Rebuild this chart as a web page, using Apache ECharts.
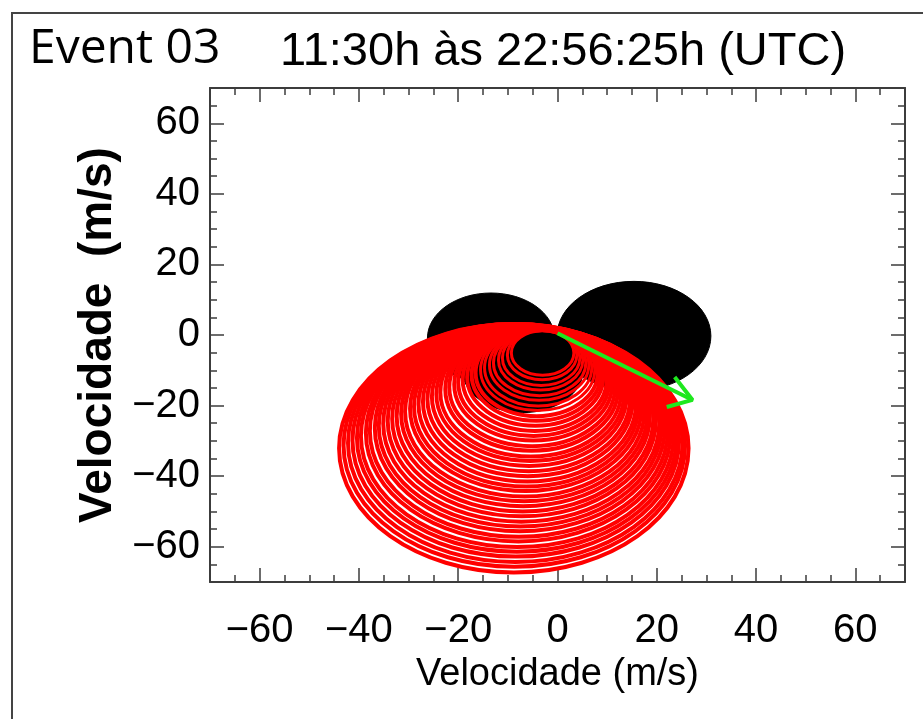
<!DOCTYPE html>
<html>
<head>
<meta charset="utf-8">
<script src="https://cdn.jsdelivr.net/npm/echarts@6/dist/echarts.min.js"></script>
<style>
  html, body { margin: 0; padding: 0; background: #fff; }
  #chart { width: 923px; height: 719px; }
</style>
</head>
<body>
<div id="chart"></div>
<script>
// Axis range and labelled ticks (m/s)
const axisMin = -70;
const axisMax = 70;
const tickLabels = [-60, -40, -20, 0, 20, 40, 60];

// Filled black discs: centre u, centre v, radius (m/s)
const discX = [-13.4, 15.4, -7.0];
const discY = [-0.9, -0.3, -9.8];
const discR = [12.8, 15.5, 12.2];

// Red hodograph rings, from the innermost to the outermost
const ringX = [-3.0, -3.1, -3.3, -3.4, -3.6, -3.7, -3.9, -4.0, -4.2, -4.3,
               -4.5, -4.6, -4.8, -4.9, -5.1, -5.2, -5.4, -5.5, -5.7, -5.8,
               -6.0, -6.1, -6.3, -6.4, -6.6, -6.7, -6.9, -7.0, -7.2, -7.3,
               -7.5, -7.6, -7.8, -7.9, -8.1, -8.2, -8.4, -8.5, -8.7, -8.8];
const ringY = [-5.1, -5.7, -6.5, -7.1, -7.9, -8.5, -9.3, -9.9, -10.7, -11.3,
               -12.0, -12.7, -13.4, -14.0, -14.8, -15.4, -16.2, -16.8, -17.5, -18.2,
               -18.9, -19.6, -20.3, -20.9, -21.7, -22.3, -23.0, -23.7, -24.4, -25.1,
               -25.8, -26.4, -27.2, -27.8, -28.6, -29.2, -29.9, -30.6, -31.3, -32.1];
const ringR = [6.3, 7.0, 7.8, 8.5, 9.3, 10.0, 10.8, 11.5, 12.3, 13.0,
               13.7, 14.5, 15.2, 15.9, 16.7, 17.4, 18.2, 18.9, 19.6, 20.4,
               21.1, 21.9, 22.6, 23.3, 24.1, 24.8, 25.5, 26.3, 27.0, 27.8,
               28.5, 29.2, 30.0, 30.7, 31.5, 32.2, 32.9, 33.7, 34.4, 35.2];

// Green mean-motion arrow
const arrowShaftX = [0.0, 27.2];
const arrowShaftY = [0.5, -18.4];
const arrowHeadX = [23.6, 27.2, 22.0];
const arrowHeadY = [-11.9, -18.4, -20.4];

const zip = (...cols) => cols[0].map((_, i) => cols.map(c => c[i]));

const frameColor = '#3c3c3c';
const tickFont = "'Liberation Sans', Arial, sans-serif";
const fmt = v => (v < 0 ? '\u2212' + Math.abs(v) : String(v));

function axisPair(dim, position, labelled) {
  const base = {
    type: 'value', position: position, min: axisMin, max: axisMax, interval: 5,
    splitLine: { show: false }
  };
  const minorAxis = Object.assign({}, base, {
    axisLine: { show: true, onZero: false, lineStyle: { color: frameColor, width: 2 } },
    axisTick: { show: true, inside: true, length: 7, lineStyle: { color: frameColor, width: 1.5 } },
    axisLabel: labelled ? {
      show: true, customValues: tickLabels, formatter: fmt, margin: dim === 'x' ? 29 : 10,
      color: '#000', fontFamily: tickFont, fontSize: 40
    } : { show: false }
  });
  if (labelled) {
    minorAxis.nameLocation = 'middle';
    if (dim === 'x') {
      minorAxis.name = 'Velocidade (m/s)';
      minorAxis.nameGap = 74;
      minorAxis.nameTextStyle = { color: '#000', fontFamily: tickFont, fontSize: 38 };
    } else {
      minorAxis.name = 'Velocidade  (m/s)';
      minorAxis.nameGap = 72;
      minorAxis.nameRotate = 90;
      minorAxis.nameTextStyle = { color: '#000', fontFamily: tickFont,
                                  fontWeight: 'bold', fontSize: 46 };
    }
  }
  const majorAxis = Object.assign({}, base, {
    axisLine: { show: false, onZero: false },
    axisTick: { show: true, inside: true, length: 14, customValues: tickLabels,
                lineStyle: { color: frameColor, width: 1.5 } },
    axisLabel: { show: false }
  });
  return [minorAxis, majorAxis];
}

function ellipseRenderer(filled) {
  return function (params, api) {
    const c = api.coord([api.value(0), api.value(1)]);
    const s = api.size([api.value(2), api.value(2)]);
    // the small rings over the central disc are drawn a little thinner
    const lw = api.value(2) < 12 ? 3 : 4;
    return {
      type: 'ellipse',
      shape: { cx: c[0], cy: c[1], rx: s[0], ry: s[1] },
      style: filled
        ? { fill: '#000', stroke: '#000', lineWidth: 1 }
        : { fill: 'transparent', stroke: '#ff0000', lineWidth: lw }
    };
  };
}

const chart = echarts.init(document.getElementById('chart'), null, { renderer: 'canvas' });
chart.setOption({
  animation: false,
  backgroundColor: '#fff',
  grid: { left: 210, top: 88, width: 695, height: 494, containLabel: false },
  xAxis: [].concat(axisPair('x', 'bottom', true), axisPair('x', 'top', false)),
  yAxis: [].concat(axisPair('y', 'left', true), axisPair('y', 'right', false)),
  graphic: [
    { type: 'rect', shape: { x: 12, y: 13, width: 930, height: 730 }, silent: true,
      style: { fill: 'transparent', stroke: '#444', lineWidth: 2 } },
    { type: 'text', left: 29, top: 25, silent: true,
      style: { text: 'Event 03', fill: '#000', font: "48px 'Open Sans', 'Noto Sans', sans-serif" } },
    { type: 'text', left: 280, top: 29, silent: true,
      style: { text: '11:30h \u00e0s 22:56:25h (UTC)', fill: '#000',
               font: "47px 'Liberation Sans', Arial, sans-serif" } }
  ],
  series: [
    {
      type: 'custom', name: 'discs', xAxisIndex: 0, yAxisIndex: 0,
      data: zip(discX, discY, discR), encode: { x: 0, y: 1 },
      renderItem: ellipseRenderer(true), silent: true
    },
    {
      type: 'custom', name: 'rings', xAxisIndex: 0, yAxisIndex: 0,
      data: zip(ringX, ringY, ringR), encode: { x: 0, y: 1 },
      renderItem: ellipseRenderer(false), silent: true
    },
    {
      type: 'line', name: 'shaft', xAxisIndex: 0, yAxisIndex: 0,
      data: zip(arrowShaftX, arrowShaftY), symbol: 'none', silent: true,
      lineStyle: { color: '#1ee81e', width: 4 }
    },
    {
      type: 'line', name: 'head', xAxisIndex: 0, yAxisIndex: 0,
      data: zip(arrowHeadX, arrowHeadY), symbol: 'none', silent: true,
      lineStyle: { color: '#1ee81e', width: 4 }
    }
  ]
});
</script>
</body>
</html>
